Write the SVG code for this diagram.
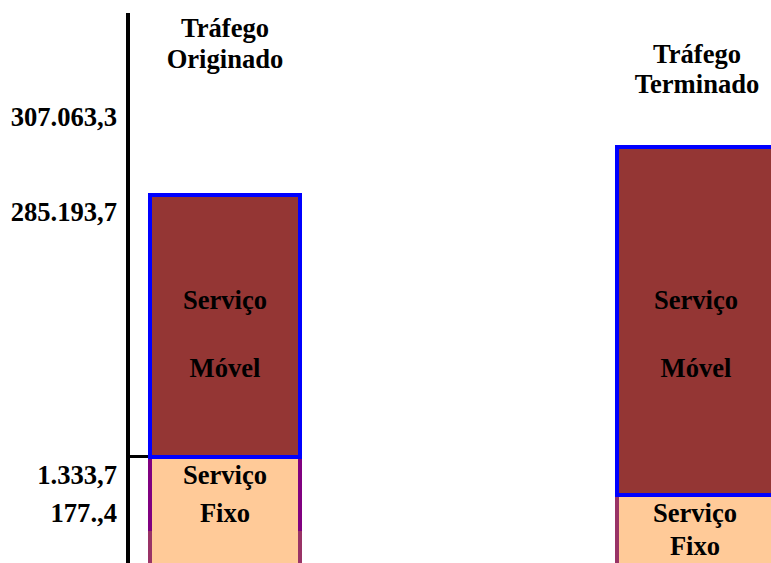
<svg xmlns="http://www.w3.org/2000/svg" width="771" height="563" viewBox="0 0 771 563">
<style>
text{font-family:"Liberation Serif","Times New Roman",serif;font-weight:bold;font-size:26.6px;fill:#000}
.c{text-anchor:middle}
.r{text-anchor:end}
.mob{fill:#943634}
.fix{fill:#FFCA98}
.blue{fill:none;stroke:#0000FF;stroke-width:4}
</style>
<rect width="771" height="563" fill="#fff"/>
<g id="axis">
<line x1="128" y1="13" x2="128" y2="563" stroke="#000" stroke-width="4"/>
<line x1="128" y1="456.5" x2="150" y2="456.5" stroke="#000" stroke-width="3"/>
<text class="r" x="117" y="126">307.063,3</text>
<text class="r" x="117" y="221">285.193,7</text>
<text class="r" x="117" y="484">1.333,7</text>
<text class="r" x="117" y="522">177.,4</text>
</g>
<g id="originado">
<text class="c" x="225" y="37">Tráfego</text>
<text class="c" x="225" y="68">Originado</text>
</g>
<g id="terminado">
<text class="c" x="697" y="63">Tráfego</text>
<text class="c" x="697" y="93">Terminado</text>
</g>
<g id="orig-fixo">
<rect class="fix" x="148" y="457" width="154" height="106"/>
<rect x="148" y="457" width="4" height="74" fill="#800080"/>
<rect x="298" y="457" width="4" height="74" fill="#800080"/>
<rect x="148" y="531" width="4" height="32" fill="#993366"/>
<rect x="298" y="531" width="4" height="32" fill="#993366"/>
<text class="c" x="225" y="484">Serviço</text>
<text class="c" x="225" y="522">Fixo</text>
</g>
<g id="orig-movel">
<rect class="mob" x="150" y="195" width="150" height="262"/>
<rect class="blue" x="150" y="195" width="150" height="262"/>
<text class="c" x="225" y="309">Serviço</text>
<text class="c" x="225" y="377">Móvel</text>
</g>
<g id="term-fixo">
<rect class="fix" x="615" y="495" width="156" height="68"/>
<rect x="615" y="495" width="4" height="68" fill="#993366"/>
<text class="c" x="695" y="522">Serviço</text>
<text class="c" x="695" y="555">Fixo</text>
</g>
<g id="term-movel">
<rect class="mob" x="617" y="147" width="160" height="348"/>
<rect class="blue" x="617" y="147" width="160" height="348"/>
<text class="c" x="696" y="309">Serviço</text>
<text class="c" x="696" y="377">Móvel</text>
</g>
</svg>
